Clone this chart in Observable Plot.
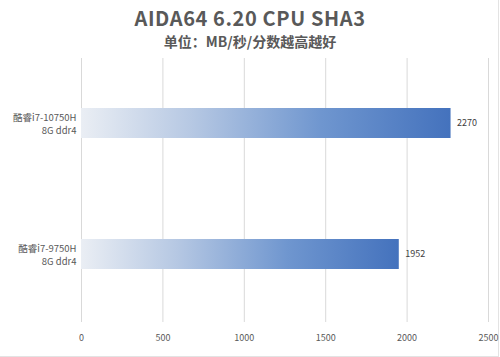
<!DOCTYPE html>
<html><head><meta charset="utf-8">
<script src="https://cdn.jsdelivr.net/npm/d3@7"></script>
<script src="https://cdn.jsdelivr.net/npm/@observablehq/plot@0.6"></script>
<style>
html,body{margin:0;padding:0;background:#fff;}
#wrap{width:500px;height:357px;box-sizing:border-box;position:relative;font-family:"Noto Sans CJK SC","Noto Sans",sans-serif;color:#595959;}
#frame{position:absolute;left:0;top:0;width:498px;height:356px;border-right:1px solid #e3e3e3;border-bottom:1px solid #e3e3e3;}
#title{position:absolute;top:6px;left:0;width:500px;text-align:center;font-size:20px;line-height:24px;font-weight:700;letter-spacing:0.6px;}
#sub{position:absolute;top:32px;left:0;width:500px;text-align:center;font-size:14px;line-height:18px;font-weight:700;}
#chart{position:absolute;top:52px;left:0;}
</style></head>
<body><div id="wrap">
<div id="frame"></div>
<div id="title">AIDA64 6.20 CPU SHA3</div>
<div id="sub">单位：MB/秒/分数越高越好</div>
<div id="chart"></div>
</div>
<script>
const categories = ["酷睿i7-10750H\n8G ddr4", "酷睿i7-9750H\n8G ddr4"];
const values = [2270, 1952];
const xTicks = [0, 500, 1000, 1500, 2000, 2500];

const data = categories.map((c, i) => ({cat: c, value: values[i]}));

const defs = () => {
  const d = d3.create("svg:defs");
  const g = d.append("linearGradient").attr("id", "barGrad").attr("x1", "0").attr("x2", "1").attr("y1", "0").attr("y2", "0");
  [["0", "#eaeef4"], ["0.3", "#b6c8e3"], ["0.65", "#6f96cf"], ["1", "#4472bd"]].forEach(([o, c]) =>
    g.append("stop").attr("offset", o).attr("stop-color", c));
  const f = d.append("filter").attr("id", "shadow").attr("x", "-5%").attr("y", "-30%").attr("width", "115%").attr("height", "170%");
  f.append("feDropShadow").attr("dx", 2).attr("dy", 3).attr("stdDeviation", 2).attr("flood-color", "#000").attr("flood-opacity", 0.3);
  return d.node();
};

const plot = Plot.plot({
  width: 500,
  height: 302,
  marginLeft: 81,
  marginRight: 12,
  marginTop: 6,
  marginBottom: 34,
  style: {fontFamily: "'Noto Sans CJK SC','Noto Sans',sans-serif", fontSize: "9px", color: "#595959", background: "transparent"},
  x: {domain: [0, 2500]},
  y: {domain: categories, paddingInner: 0.77, paddingOuter: 0.385, label: null},
  marks: [
    defs,
    Plot.gridX(xTicks, {stroke: "#d9d9d9", strokeOpacity: 1}),
    Plot.axisX({ticks: xTicks, tickSize: 2, stroke: "#d9d9d9", tickPadding: 12, tickFormat: d => String(d), label: null, fill: "#595959", fontSize: 9}),
    Plot.axisY({tickSize: 0, tickPadding: 5, label: null, lineHeight: 1.35, fill: "#595959", fontSize: 9.5}),
    Plot.barX(data, {y: "cat", x: "value", fill: "url(#barGrad)", style: {filter: "url(#shadow)"}}),
    Plot.text(data, {y: "cat", x: "value", text: d => String(d.value), textAnchor: "start", dx: 6, fill: "#404040", fontSize: 9})
  ]
});
document.getElementById("chart").appendChild(plot);
</script>
</body></html>
